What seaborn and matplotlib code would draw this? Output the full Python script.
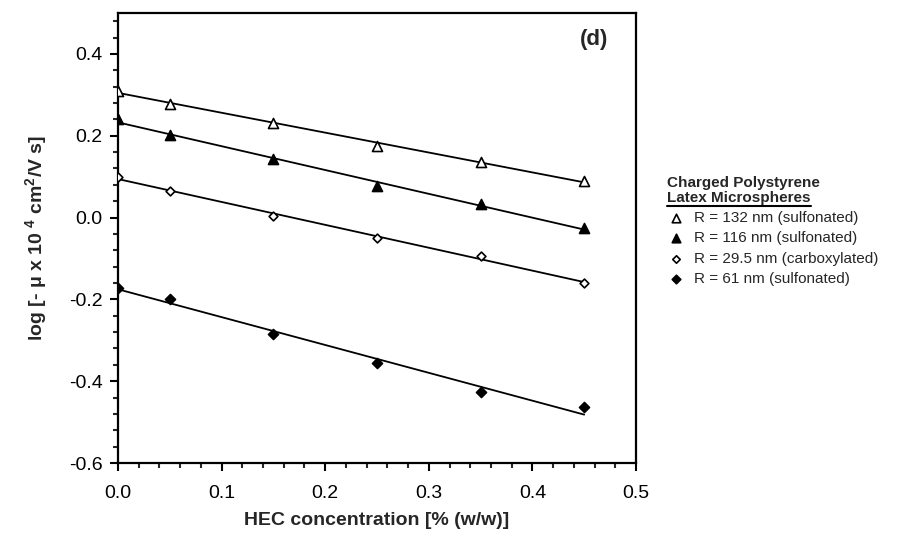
import numpy as np
import pandas as pd
import matplotlib
matplotlib.use("Agg")
import matplotlib.pyplot as plt
from matplotlib.lines import Line2D
from matplotlib.ticker import MultipleLocator
import seaborn as sns

# ---- data ----
hec_conc = [0.0, 0.05, 0.15, 0.25, 0.35, 0.45]
r132_sulf = [0.310, 0.278, 0.232, 0.176, 0.135, 0.090]
r116_sulf = [0.240, 0.202, 0.142, 0.076, 0.034, -0.026]
r295_carb = [0.098, 0.066, 0.005, -0.050, -0.095, -0.159]
r61_sulf = [-0.171, -0.200, -0.285, -0.356, -0.427, -0.464]
series_labels = ["R = 132 nm (sulfonated)", "R = 116 nm (sulfonated)",
                 "R = 29.5 nm (carboxylated)", "R = 61 nm (sulfonated)"]
x_ticks = [0.0, 0.1, 0.2, 0.3, 0.4, 0.5]
y_ticks = [-0.6, -0.4, -0.2, 0.0, 0.2, 0.4]

sns.set_style("ticks")
plt.rcParams["font.family"] = ["Liberation Sans", "DejaVu Sans"]
plt.rcParams["mathtext.fontset"] = "custom"
plt.rcParams["mathtext.rm"] = "Liberation Sans"
plt.rcParams["mathtext.bf"] = "Liberation Sans:bold"

fig = plt.figure(figsize=(9.14, 5.35), dpi=100)
ax = fig.add_axes([118 / 914, 1 - 463 / 535, (636 - 118) / 914, (463 - 13) / 535])

styles = [
    dict(marker="^", facecolor="white", s=52),
    dict(marker="^", facecolor="black", s=52),
    dict(marker="D", facecolor="white", s=20),
    dict(marker="D", facecolor="black", s=26),
]
all_series = [r132_sulf, r116_sulf, r295_carb, r61_sulf]
handles = []
for vals, st, lab in zip(all_series, styles, series_labels):
    df = pd.DataFrame({"x": hec_conc, "y": vals})
    sns.regplot(data=df, x="x", y="y", ax=ax, ci=None, truncate=True,
                marker=st["marker"],
                scatter_kws=dict(s=st["s"], facecolors=st["facecolor"],
                                 edgecolors="black", linewidths=1.2, zorder=3,
                                 alpha=1),
                line_kws=dict(color="black", lw=1.3, zorder=2))
    handles.append(ax.collections[-1])

ax.set_xlim(0.0, 0.5)
ax.set_ylim(-0.6, 0.5)
ax.set_xticks(x_ticks)
ax.set_yticks(y_ticks)
ax.set_xticklabels([f"{v:.1f}" for v in x_ticks])
ax.set_yticklabels([f"{v:.1f}" for v in y_ticks])
ax.xaxis.set_minor_locator(MultipleLocator(0.02))
ax.yaxis.set_minor_locator(MultipleLocator(0.04))
ax.tick_params(which="major", direction="out", length=6, width=1.5,
               labelsize=14, colors="black")
ax.tick_params(axis="x", which="major", pad=10)
ax.tick_params(axis="y", which="major", pad=5)
ax.tick_params(which="minor", direction="out", length=3.5, width=1.5)
for sp in ax.spines.values():
    sp.set_visible(True)
    sp.set_linewidth(1.6)
    sp.set_color("black")

ax.set_xlabel("HEC concentration [% (w/w)]", fontsize=14, fontweight="bold",
              labelpad=7)
ax.set_ylabel(r"log [- μ x 10 $^{\mathbf{4}}$ cm$^{\mathbf{2}}$/V s]",
              fontsize=14, fontweight="bold", labelpad=14)
ax.text(0.92, 0.94, "(d)", transform=ax.transAxes, fontsize=16,
        fontweight="bold", ha="center", va="center")

# legend title lines
t1 = fig.text(667 / 914, 1 - 183 / 535, "Charged Polystyrene", fontsize=11,
              fontweight="bold", ha="left", va="center")
t2 = fig.text(667 / 914, 1 - 198 / 535, "Latex Microspheres", fontsize=11,
              fontweight="bold", ha="left", va="center")

leg = fig.legend(handles, series_labels, loc="upper left",
                 bbox_to_anchor=(667 / 914, 1 - 211 / 535), frameon=False,
                 fontsize=11, handletextpad=0.6, labelspacing=0.42,
                 handlelength=1.2, borderaxespad=0, borderpad=0,
                 markerscale=0.85)

fig.canvas.draw()
bb = t2.get_window_extent()
fig.add_artist(Line2D([bb.x0, bb.x1], [bb.y0 - 1, bb.y0 - 1],
                      transform=None, color="black", lw=1.5))

fig.savefig("out.png", dpi=100)
